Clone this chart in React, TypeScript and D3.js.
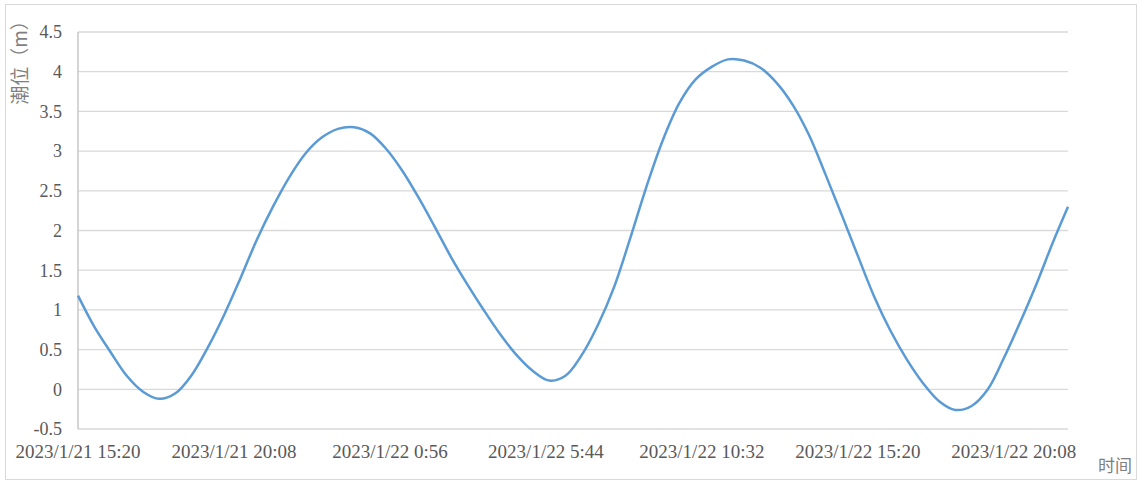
import React from "react";
import * as d3 from "d3";

// Sample times (2023) and tide levels (m)
const times: string[] = [
  "1/21 15:20", "1/21 15:50", "1/21 16:20", "1/21 16:50", "1/21 17:20", "1/21 17:50",
  "1/21 18:20", "1/21 18:50", "1/21 19:20", "1/21 19:50", "1/21 20:20", "1/21 20:50",
  "1/21 21:20", "1/21 21:50", "1/21 22:20", "1/21 22:50", "1/21 23:20", "1/21 23:50",
  "1/22 0:20", "1/22 0:50", "1/22 1:20", "1/22 1:50", "1/22 2:20", "1/22 2:50",
  "1/22 3:20", "1/22 3:50", "1/22 4:20", "1/22 4:50", "1/22 5:20", "1/22 5:50",
  "1/22 6:20", "1/22 6:50", "1/22 7:20", "1/22 7:50", "1/22 8:20", "1/22 8:50",
  "1/22 9:20", "1/22 9:50", "1/22 10:20", "1/22 10:50", "1/22 11:20", "1/22 11:50",
  "1/22 12:20", "1/22 12:50", "1/22 13:20", "1/22 13:50", "1/22 14:20", "1/22 14:50",
  "1/22 15:20", "1/22 15:50", "1/22 16:20", "1/22 16:50", "1/22 17:20", "1/22 17:50",
  "1/22 18:20", "1/22 18:50", "1/22 19:20", "1/22 19:50", "1/22 20:20", "1/22 20:50",
  "1/22 21:20", "1/22 21:48",
];

const levels: number[] = [
  1.18, 0.79, 0.47, 0.17, -0.03, -0.12,
  -0.05, 0.18, 0.53, 0.94, 1.4, 1.88,
  2.3, 2.67, 2.97, 3.17, 3.28, 3.3,
  3.22, 3.02, 2.74, 2.4, 2.03, 1.65,
  1.31, 0.99, 0.69, 0.43, 0.23, 0.11,
  0.17, 0.43, 0.81, 1.29, 1.91, 2.56,
  3.14, 3.6, 3.9, 4.06, 4.155, 4.14,
  4.05, 3.86, 3.58, 3.2, 2.71, 2.2,
  1.68, 1.17, 0.74, 0.38, 0.08, -0.15,
  -0.26, -0.21, 0.0, 0.4, 0.85, 1.33,
  1.85, 2.3,
];

const xTickLabels: string[] = [
  "2023/1/21 15:20",
  "2023/1/21 20:08",
  "2023/1/22 0:56",
  "2023/1/22 5:44",
  "2023/1/22 10:32",
  "2023/1/22 15:20",
  "2023/1/22 20:08",
];

const yTicks: number[] = [-0.5, 0, 0.5, 1, 1.5, 2, 2.5, 3, 3.5, 4, 4.5];

const yTitle = "潮位（m）";
const xTitle = "时间";

const W = 1139;
const H = 482;
const M = { left: 78, right: 1068, top: 32, bottom: 429 };

const parse = d3.timeParse("%Y/%m/%d %H:%M");

export default function App() {
  const data = times.map((t, i) => ({ t: parse("2023/" + t) as Date, v: levels[i] }));
  const x = d3
    .scaleTime()
    .domain([data[0].t, data[data.length - 1].t])
    .range([M.left, M.right]);
  const y = d3.scaleLinear().domain([-0.5, 4.5]).range([M.bottom, M.top]);

  const line = d3
    .line<{ t: Date; v: number }>()
    .x((d) => x(d.t))
    .y((d) => y(d.v))
    .curve(d3.curveCatmullRom.alpha(0.5));

  const numFont = "'Liberation Serif', 'Times New Roman', serif";
  const cjkFont = "'Noto Sans CJK SC', sans-serif";
  const textColor = "#595959";

  return (
    <svg
      width={W}
      height={H}
      style={{ position: "absolute", left: 0, top: 0, background: "#fff" }}
    >
      <rect x={5.5} y={4.5} width={1131} height={475} fill="#fff" stroke="#d9d9d9" strokeWidth={1} />
      {yTicks.map((v) => (
        <line
          key={"g" + v}
          x1={M.left}
          x2={M.right}
          y1={y(v)}
          y2={y(v)}
          stroke="#d9d9d9"
          strokeWidth={1.3}
        />
      ))}
      <line x1={M.left} x2={M.left} y1={M.top} y2={M.bottom} stroke="#bfbfbf" strokeWidth={1.3} />
      {yTicks.map((v) => (
        <text
          key={"yl" + v}
          x={62}
          y={y(v)}
          dy="0.35em"
          textAnchor="end"
          fontFamily={numFont}
          fontSize={18}
          fill={textColor}
        >
          {String(v)}
        </text>
      ))}
      {xTickLabels.map((s) => (
        <text
          key={s}
          x={x(parse(s) as Date)}
          y={458}
          textAnchor="middle"
          fontFamily={numFont}
          fontSize={19}
          fill={textColor}
        >
          {s}
        </text>
      ))}
      <path d={line(data) || ""} fill="none" stroke="#5B9BD5" strokeWidth={2.5} strokeLinejoin="round" />
      <text
        transform={`translate(27, 58) rotate(-90)`}
        textAnchor="middle"
        fontFamily={cjkFont}
        fontSize={19}
        fill="#7f7f7f"
      >
        {yTitle}
      </text>
      <text x={1115} y={472} textAnchor="middle" fontFamily={cjkFont} fontSize={17} fill="#7f7f7f">
        {xTitle}
      </text>
    </svg>
  );
}
